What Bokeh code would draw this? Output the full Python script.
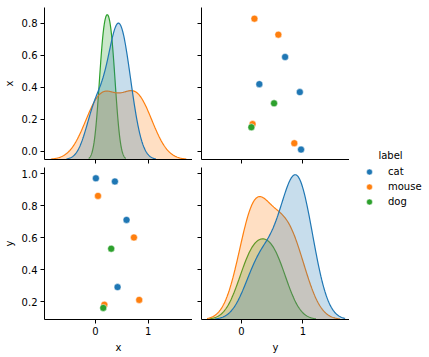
import numpy as np
from bokeh.plotting import figure
from bokeh.layouts import row, column
from bokeh.models import (Range1d, LinearAxis, FixedTicker, Legend, LegendItem, Label,
                          NumeralTickFormatter, CustomLabelingPolicy)
from bokeh.embed import file_html
from bokeh.resources import INLINE

# ---------------- data ----------------
categories = ["cat", "mouse", "dog"]
colors = ["#1f77b4", "#ff7f0e", "#2ca02c"]
labels = ["cat", "cat", "cat", "cat", "mouse", "mouse", "mouse", "mouse", "dog", "dog"]
x_vals = [0.01, 0.37, 0.59, 0.42, 0.05, 0.73, 0.83, 0.17, 0.30, 0.15]
y_vals = [0.97, 0.95, 0.71, 0.29, 0.86, 0.60, 0.21, 0.18, 0.53, 0.16]
x_ticks_h = [0, 1]
y_ticks_h = [0, 1]
x_ticks_v = [0.0, 0.2, 0.4, 0.6, 0.8]
y_ticks_v = [0.2, 0.4, 0.6, 0.8, 1.0]

FONT = "DejaVu Sans"
N = len(labels)

# axis view ranges
xcol_range = (-0.962, 1.838)
ycol_range = (-0.653, 1.76)
xrow_range = (-0.052, 0.90)
yrow_range = (0.0875, 1.0375)


def kde(vals):
    v = np.asarray(vals, float)
    n = len(v)
    bw = v.std(ddof=1) * n ** (-0.2)
    g = np.linspace(v.min() - 3 * bw, v.max() + 3 * bw, 200)
    d = np.exp(-0.5 * ((g[:, None] - v[None, :]) / bw) ** 2).sum(axis=1) / (n * bw * np.sqrt(2 * np.pi))
    return g, d * n / N


NO_LABELS = "return []"


def style_axis(ax, ticks, show_labels, text=None, fmt=None):
    ax.ticker = FixedTicker(ticks=ticks)
    ax.axis_line_color = "black"
    ax.axis_line_width = 1
    ax.major_tick_line_color = "black"
    ax.major_tick_line_width = 1
    ax.major_tick_out = 4
    ax.major_tick_in = 0
    ax.minor_tick_line_color = None
    ax.major_label_text_font = FONT
    ax.major_label_text_color = "black"
    if fmt:
        ax.formatter = NumeralTickFormatter(format=fmt)
    if show_labels:
        ax.major_label_text_font_size = "10px"
        ax.major_label_standoff = 3
    else:
        ax.major_label_text_font_size = "0px"
        ax.major_label_standoff = 0
        ax.major_label_policy = CustomLabelingPolicy(code=NO_LABELS)
    if text:
        ax.axis_label = text
        ax.axis_label_text_font = FONT
        ax.axis_label_text_font_size = "10px"
        ax.axis_label_text_font_style = "normal"
        ax.axis_label_text_color = "black"
        ax.axis_label_standoff = 4


def make_fig(w, h, left, right, top, bottom, xr, yr):
    p = figure(width=w, height=h, x_range=xr, y_range=yr,
               output_backend="svg", toolbar_location=None,
               x_axis_location=None, y_axis_location=None,
               min_border_left=left, min_border_right=right,
               min_border_top=top, min_border_bottom=bottom)
    p.outline_line_color = None
    p.xgrid.visible = False
    p.ygrid.visible = False
    p.background_fill_color = "white"
    p.border_fill_color = "white"
    return p


xr_left = Range1d(*xcol_range)
xr_right = Range1d(*ycol_range)

# ---------- diag x ----------
kdes_x = [kde([x for x, l in zip(x_vals, labels) if l == c]) for c in categories]
dmax_x = max(d.max() for g, d in kdes_x)
tl = make_fig(192, 167, 44, 0, 7, 8, xr_left, Range1d(0, dmax_x * 1.05))
tl.extra_y_ranges = {"v": Range1d(*xrow_range)}
for (g, d), c in list(zip(kdes_x, colors))[::-1]:
    tl.varea(x=g, y1=0, y2=d, fill_color=c, fill_alpha=0.25)
    tl.line(g, d, line_color=c, line_width=1.2)
ax = LinearAxis(y_range_name="v"); style_axis(ax, x_ticks_v, True, "x", "0.0"); tl.add_layout(ax, "left")
ax = LinearAxis(); style_axis(ax, x_ticks_h, False); tl.add_layout(ax, "below")

# ---------- scatter top-right (y vs x) ----------
tr = make_fig(157, 167, 9, 0, 7, 8, xr_right, Range1d(*xrow_range))
for c, col in zip(categories, colors):
    xs = [y for y, l in zip(y_vals, labels) if l == c]
    ys = [x for x, l in zip(x_vals, labels) if l == c]
    tr.scatter(xs, ys, size=7, fill_color=col, line_color="white", line_width=0.5)
ax = LinearAxis(); style_axis(ax, x_ticks_v, False); tr.add_layout(ax, "left")
ax = LinearAxis(); style_axis(ax, y_ticks_h, False); tr.add_layout(ax, "below")

# ---------- scatter bottom-left (x vs y) ----------
bl = make_fig(192, 190, 44, 0, 0, 38, xr_left, Range1d(*yrow_range))
for c, col in zip(categories, colors):
    xs = [x for x, l in zip(x_vals, labels) if l == c]
    ys = [y for y, l in zip(y_vals, labels) if l == c]
    bl.scatter(xs, ys, size=7, fill_color=col, line_color="white", line_width=0.5)
ax = LinearAxis(); style_axis(ax, y_ticks_v, True, "y", "0.0"); bl.add_layout(ax, "left")
ax = LinearAxis(); style_axis(ax, x_ticks_h, True, "x", "0"); bl.add_layout(ax, "below")

# ---------- diag y ----------
kdes_y = [kde([y for y, l in zip(y_vals, labels) if l == c]) for c in categories]
dmax_y = max(d.max() for g, d in kdes_y)
br = make_fig(157, 190, 9, 0, 0, 38, xr_right, Range1d(0, dmax_y * 1.05))
br.extra_y_ranges = {"v": Range1d(*yrow_range)}
for (g, d), c in list(zip(kdes_y, colors))[::-1]:
    br.varea(x=g, y1=0, y2=d, fill_color=c, fill_alpha=0.25)
    br.line(g, d, line_color=c, line_width=1.2)
ax = LinearAxis(y_range_name="v"); style_axis(ax, y_ticks_v, False); br.add_layout(ax, "left")
ax = LinearAxis(); style_axis(ax, y_ticks_h, True, "y", "0"); br.add_layout(ax, "below")

# ---------- legend ----------
lg = figure(width=80, height=357, x_range=(0, 1), y_range=(0, 1),
            output_backend="svg", toolbar_location=None,
            x_axis_location=None, y_axis_location=None,
            min_border_left=0, min_border_right=0, min_border_top=0, min_border_bottom=0)
lg.outline_line_color = None
lg.xgrid.visible = False
lg.ygrid.visible = False
items = []
for c, col in zip(categories, colors):
    # off-screen placeholder point so the legend has a glyph to draw
    r = lg.scatter([-10], [-10], size=7, fill_color=col, line_color="white", line_width=0.5)
    items.append(LegendItem(label=c, renderers=[r]))
legend = Legend(items=items, location=(12, 148), glyph_width=16, glyph_height=15,
                label_height=15, spacing=0, padding=0, margin=0, label_standoff=11,
                label_text_font=FONT, label_text_font_size="10px", label_text_color="black",
                border_line_color=None, background_fill_alpha=0)
lg.add_layout(legend, "center")
lg.add_layout(Label(x=41, y=202, x_units="screen", y_units="screen", text="label",
                    text_align="center", text_baseline="middle",
                    text_font=FONT, text_font_size="10px", text_color="black"))

layout = row(column(row(tl, tr), row(bl, br)), lg)
open("out.html", "w").write(file_html(layout, INLINE))
